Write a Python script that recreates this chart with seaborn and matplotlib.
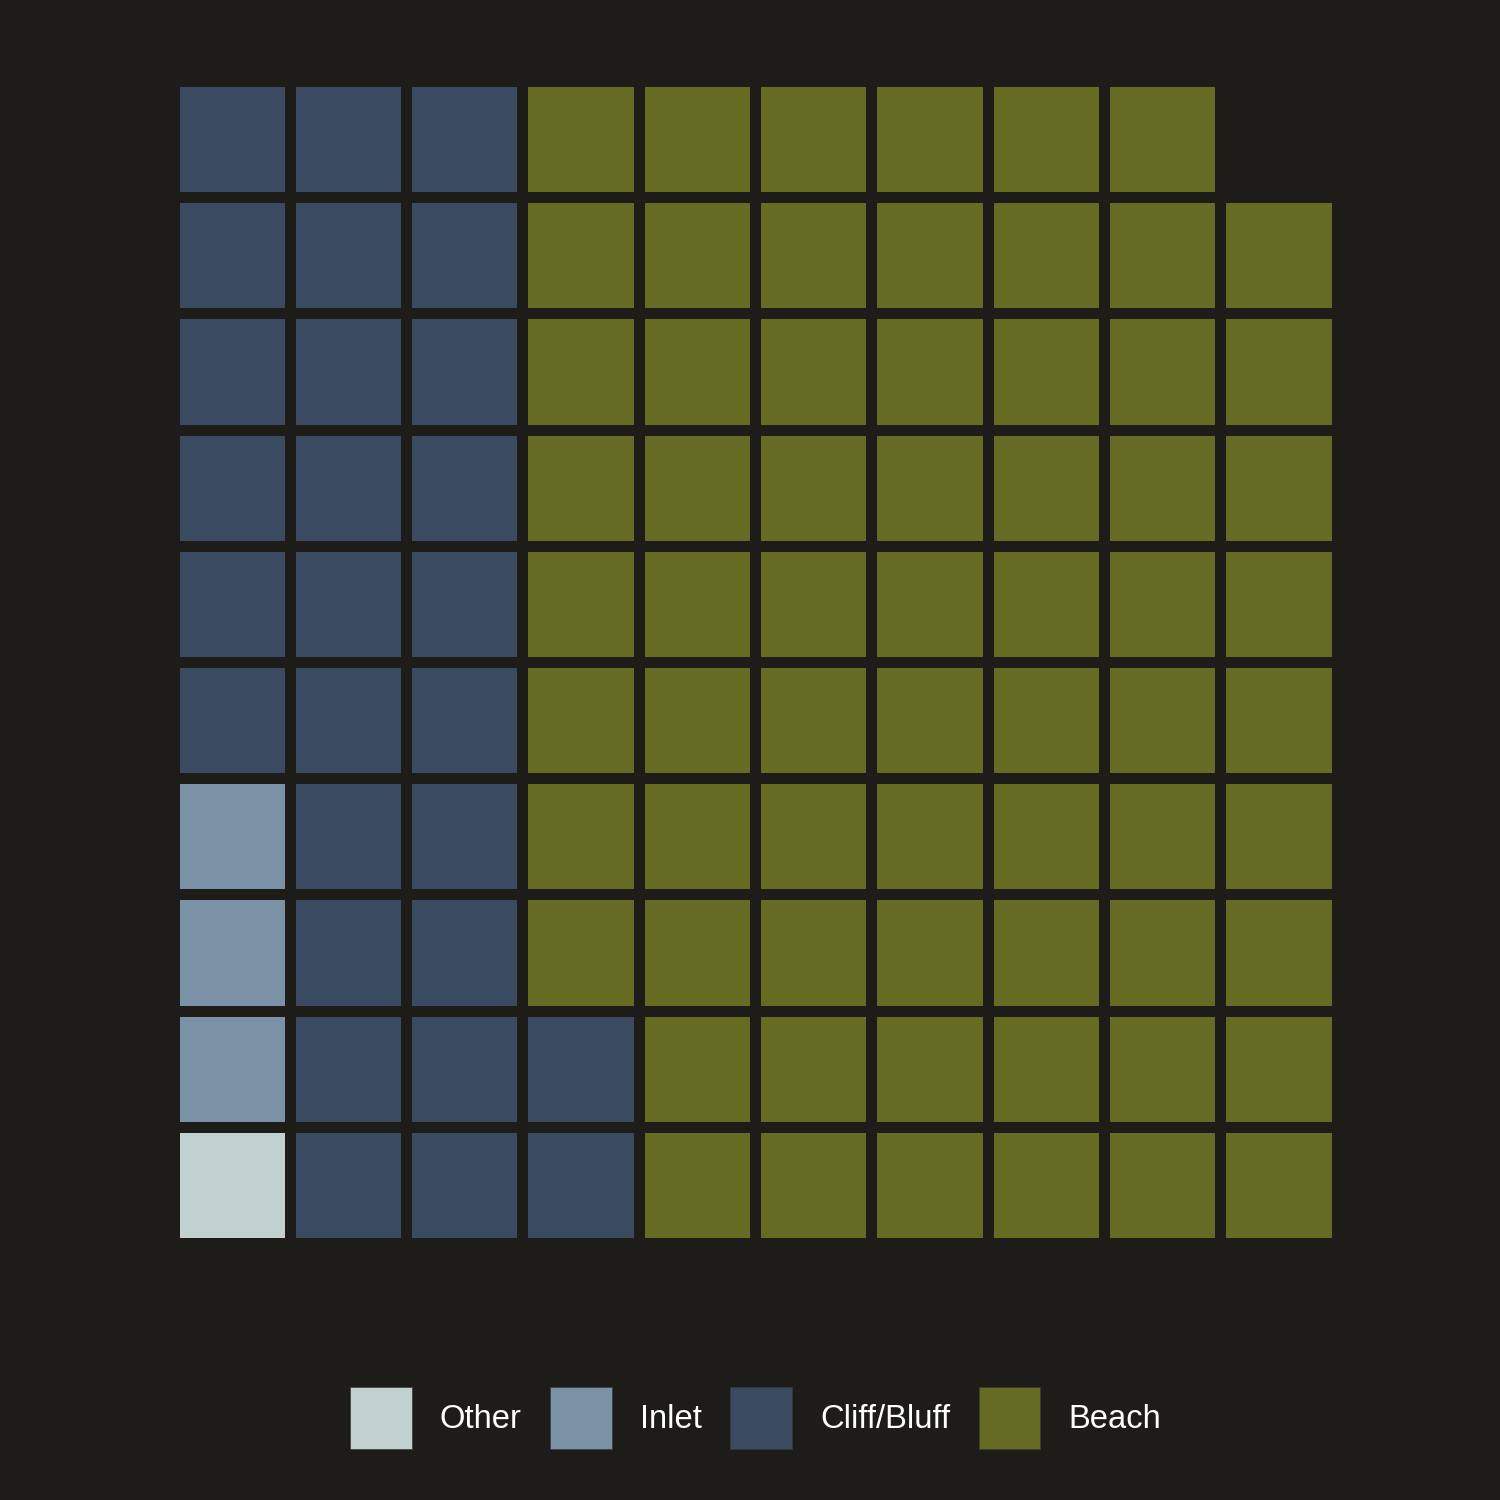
import numpy as np
import seaborn as sns
import matplotlib
matplotlib.use("Agg")
import matplotlib.pyplot as plt
from matplotlib.colors import ListedColormap
from matplotlib.patches import Patch

# waffle data: one square per unit, filled column by column from bottom-left
categories = ["Other", "Inlet", "Cliff/Bluff", "Beach"]
counts = [1, 3, 28, 67]
colors = ["#c1d1cf", "#7b91a5", "#3a4a60", "#656b23"]
bg = "#1e1c18"

n_rows, n_cols = 10, 10

grid = np.full((n_rows, n_cols), np.nan)
k = 0
for ci, c in enumerate(counts):
    for _ in range(c):
        col = k // n_rows
        row = n_rows - 1 - (k % n_rows)
        grid[row, col] = ci
        k += 1

sns.set_style("white")
plt.rcParams['font.family'] = ['Liberation Sans', 'DejaVu Sans']

fig = plt.figure(figsize=(15, 15), dpi=100, facecolor=bg)
ax = fig.add_axes([173.5 / 1500, 1 - 1243.0 / 1500, 1163 / 1500, 1162 / 1500])
ax.set_facecolor(bg)

sns.heatmap(grid, ax=ax, cmap=ListedColormap(colors), vmin=-0.5, vmax=3.5,
            mask=np.isnan(grid), cbar=False, linewidths=7.9, linecolor=bg,
            xticklabels=False, yticklabels=False)
ax.set_aspect("auto")
for s in ax.spines.values():
    s.set_visible(False)

handles = [Patch(facecolor=c, edgecolor="#3a3a3a", linewidth=0.5, label=l)
           for c, l in zip(colors, categories)]
leg = fig.legend(handles=handles, loc="center", bbox_to_anchor=(0.5037, 0.0547),
                 ncol=4, frameon=False, fontsize=23.6, labelcolor="white",
                 handlelength=1.88, handleheight=2.53, handletextpad=0.85,
                 columnspacing=0.88)

fig.savefig("out.png", dpi=100, facecolor=bg)
